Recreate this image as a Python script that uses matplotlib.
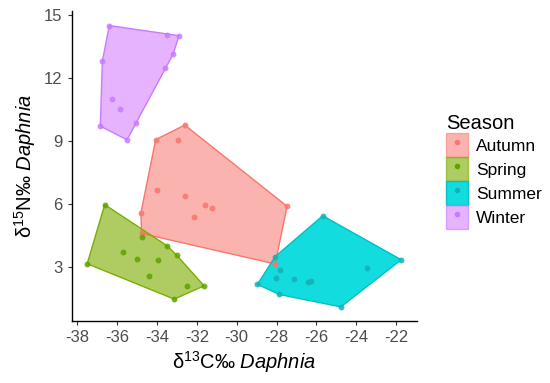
import numpy as np
import matplotlib
matplotlib.use("Agg")
import matplotlib.pyplot as plt
from matplotlib.patches import Patch, Polygon
from matplotlib.lines import Line2D
from matplotlib.legend_handler import HandlerTuple

plt.rcParams["font.family"] = ["Liberation Sans", "DejaVu Sans"]
plt.rcParams["mathtext.fontset"] = "custom"
plt.rcParams["mathtext.rm"] = "Liberation Sans"
plt.rcParams["mathtext.it"] = "Liberation Sans:italic"
plt.rcParams["axes.unicode_minus"] = False

# ---- data ----
seasons = ["Autumn", "Spring", "Summer", "Winter"]

autumn_x = [-32.61, -34.07, -32.95, -27.47, -33.99, -32.58, -31.58, -31.26, -32.13, -34.81, -34.78, -28.07]
autumn_y = [9.75, 9.06, 9.06, 5.89, 6.65, 6.40, 5.97, 5.79, 5.38, 5.59, 4.60, 3.15]

spring_x = [-36.63, -34.78, -35.71, -35.01, -33.94, -33.49, -33.02, -34.39, -37.51, -32.51, -31.64, -33.14]
spring_y = [5.97, 4.45, 3.73, 3.40, 3.35, 4.01, 3.57, 2.59, 3.16, 2.11, 2.11, 1.48]

summer_x = [-28.07, -27.82, -28.04, -28.96, -27.86, -24.77, -21.74, -25.68, -23.44, -27.12, -26.40, -26.28]
summer_y = [3.50, 2.87, 2.48, 2.18, 1.70, 1.11, 3.35, 5.44, 2.94, 2.44, 2.29, 2.32]

winter_x = [-36.40, -33.49, -32.90, -33.19, -33.60, -36.75, -36.25, -35.88, -36.85, -35.06, -35.51]
winter_y = [14.48, 14.05, 14.00, 13.13, 12.46, 12.78, 10.99, 10.51, 9.70, 9.84, 9.05]

xticks = [-38, -36, -34, -32, -30, -28, -26, -24, -22]
yticks = [3, 6, 9, 12, 15]

# ---- style ----
HUE = {"Autumn": "#F8766D", "Spring": "#7CAE00", "Summer": "#00BFC4", "Winter": "#C77CFF"}
FILL = {"Autumn": ("#F8766D", 0.55), "Spring": ("#7CAE00", 0.62),
        "Summer": ("#00DADC", 0.93), "Winter": ("#D585FF", 0.62)}
PTS = {"Autumn": "#F8766D", "Spring": "#5FA300", "Summer": "#17AFB5", "Winter": "#C77CFF"}


def hull(xs, ys):
    pts = sorted(set(zip(xs, ys)))

    def cross(o, a, b):
        return (a[0] - o[0]) * (b[1] - o[1]) - (a[1] - o[1]) * (b[0] - o[0])

    lower, upper = [], []
    for p in pts:
        while len(lower) >= 2 and cross(lower[-2], lower[-1], p) <= 0:
            lower.pop()
        lower.append(p)
    for p in reversed(pts):
        while len(upper) >= 2 and cross(upper[-2], upper[-1], p) <= 0:
            upper.pop()
        upper.append(p)
    return lower[:-1] + upper[:-1]


data = {
    "Autumn": (autumn_x, autumn_y),
    "Spring": (spring_x, spring_y),
    "Summer": (summer_x, summer_y),
    "Winter": (winter_x, winter_y),
}

fig = plt.figure(figsize=(5.5, 3.83), dpi=100)
ax = fig.add_axes([0.130, 0.162, 0.628, 0.808])

for s in seasons:
    xs, ys = data[s]
    fc, a = FILL[s]
    ax.add_patch(Polygon(hull(xs, ys), closed=True, facecolor=fc, alpha=a,
                         edgecolor="none", zorder=2))
    ax.add_patch(Polygon(hull(xs, ys), closed=True, facecolor="none",
                         edgecolor=HUE[s], linewidth=1.0, zorder=3))
for s in seasons:
    xs, ys = data[s]
    ax.scatter(xs, ys, s=18, color=PTS[s], linewidths=0, alpha=0.85, zorder=4)

allx = autumn_x + spring_x + summer_x + winter_x
ally = autumn_y + spring_y + summer_y + winter_y
dx = (max(allx) - min(allx)) * 0.05
dy = (max(ally) - min(ally)) * 0.05
ax.set_xlim(min(allx) - dx, max(allx) + dx)
ax.set_ylim(min(ally) - dy, max(ally) + dy)

ax.set_xticks(xticks)
ax.set_yticks(yticks)
ax.tick_params(labelsize=12, labelcolor="#4D4D4D", color="#333333",
               length=3, width=0.8)
for sp in ("top", "right"):
    ax.spines[sp].set_visible(False)
for sp in ("left", "bottom"):
    ax.spines[sp].set_linewidth(1.0)
    ax.spines[sp].set_color("black")

ax.set_xlabel(r"δ$^{13}$C‰ $\it{Daphnia}$", fontsize=14.5, labelpad=3)
ax.set_ylabel(r"δ$^{15}$N‰ $\it{Daphnia}$", fontsize=14.5, labelpad=4)

handles = []
for s in seasons:
    fc, a = FILL[s]
    handles.append((Patch(facecolor=fc, alpha=a, edgecolor=HUE[s], linewidth=1.0),
                    Line2D([], [], marker="o", linestyle="none", markersize=4,
                           color=PTS[s], markeredgewidth=0)))
leg = ax.legend(handles, seasons, handler_map={tuple: HandlerTuple(ndivide=1)},
                title="Season", loc="upper left", bbox_to_anchor=(0.798, 0.72),
                bbox_transform=fig.transFigure, frameon=False, fontsize=12.5,
                title_fontsize=14.5, handlelength=1.3, handleheight=1.75,
                labelspacing=0.0, handletextpad=0.45, borderaxespad=0)
leg._legend_box.align = "left"

fig.savefig("out.png", dpi=100)
